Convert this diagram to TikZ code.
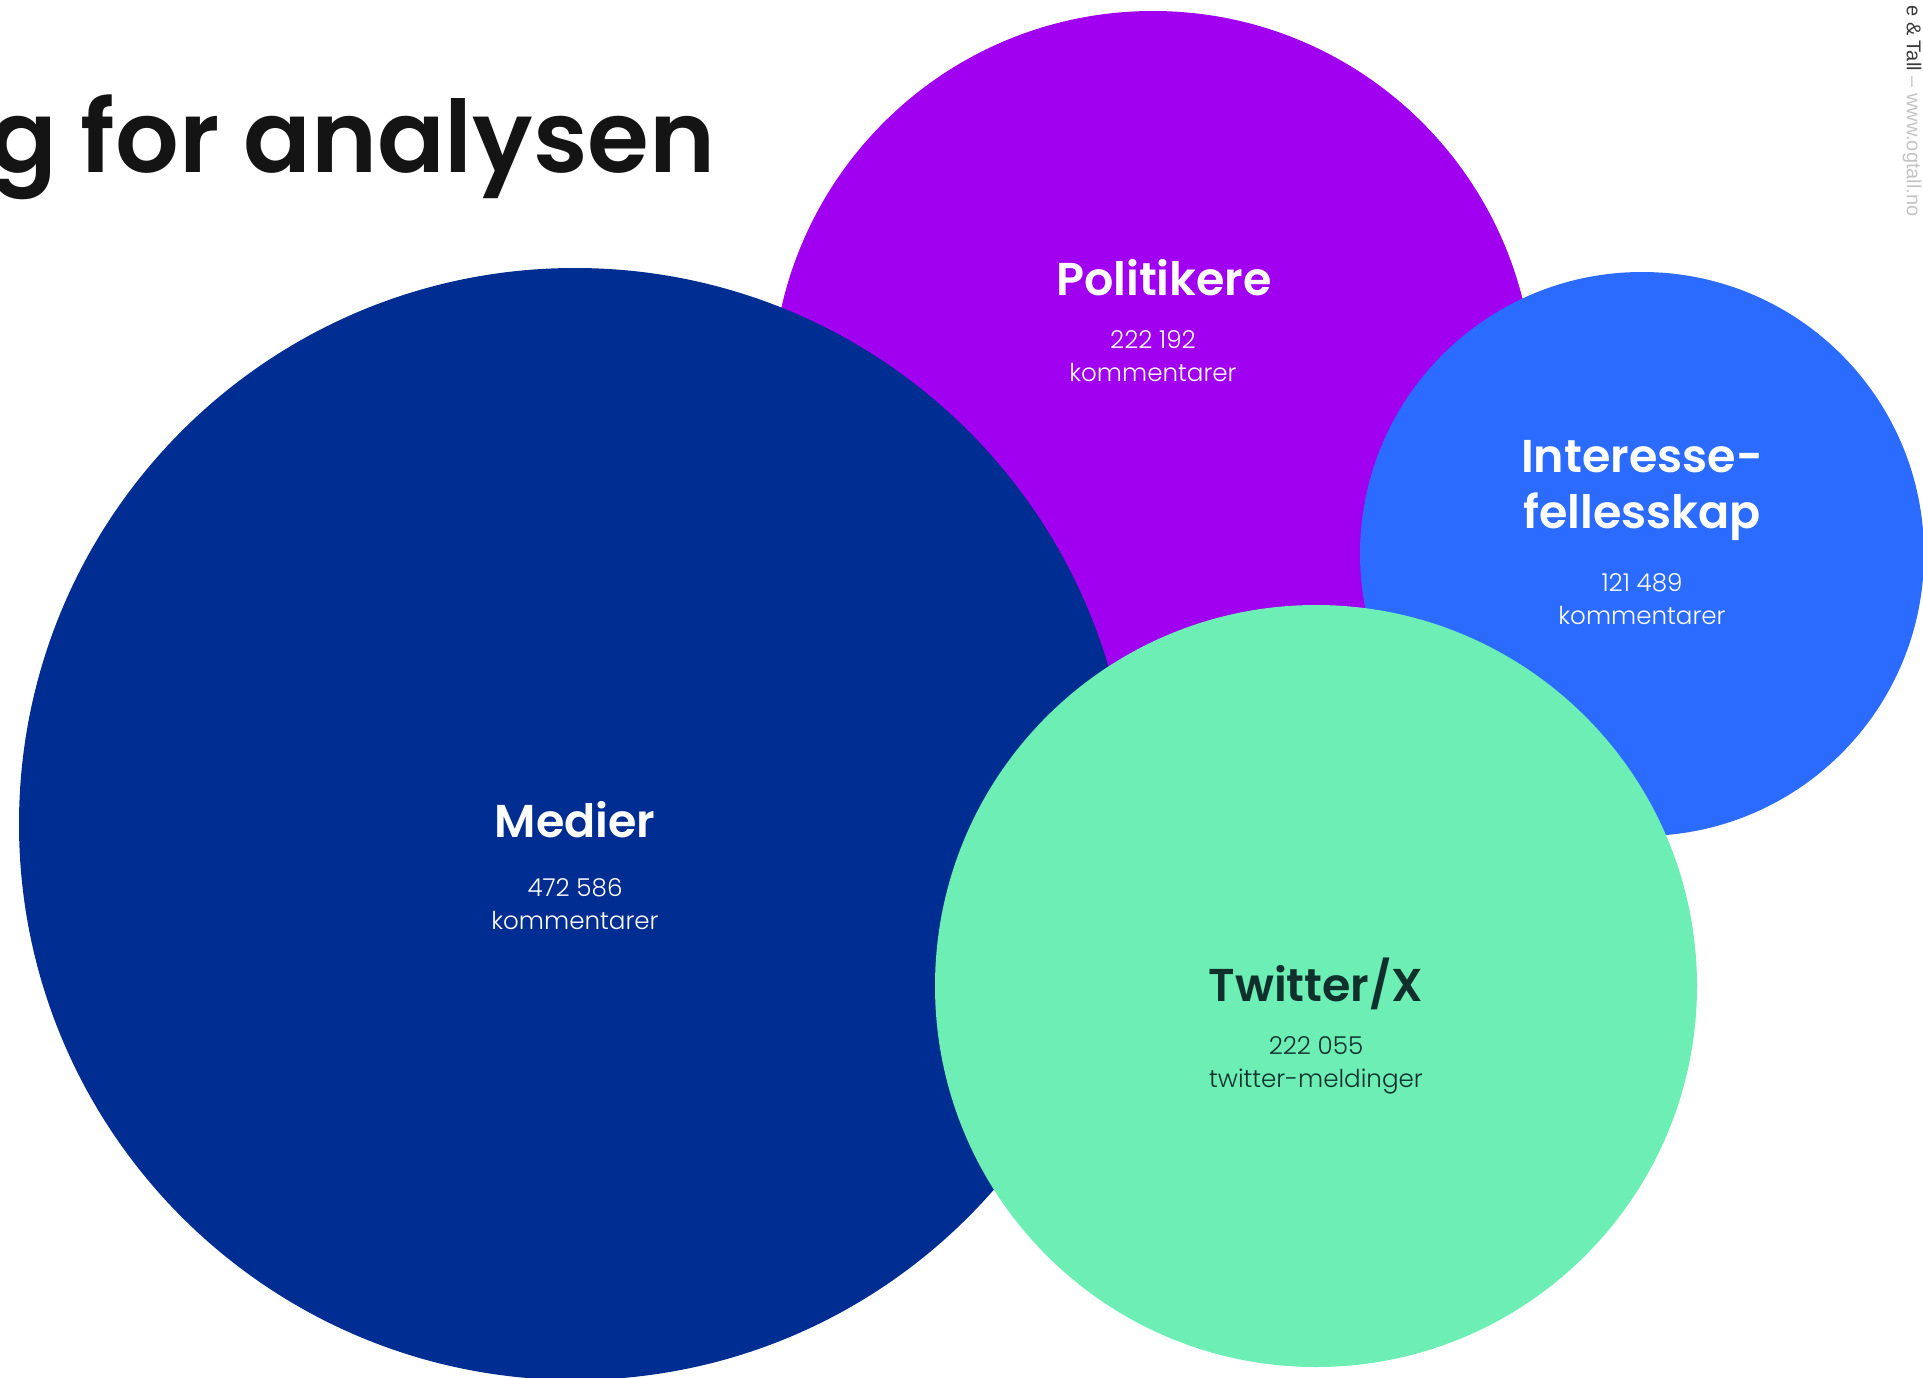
\documentclass[tikz,border=0pt]{standalone}
\usepackage{fontspec}
\setmainfont{Poppins}
\newfontfamily\semifont{Poppins SemiBold}
\newfontfamily\lightfont{Poppins Light}
\newfontfamily\markfont{Liberation Sans}
\usepackage{tikz}
\definecolor{MedNavy}{HTML}{002D91}
\definecolor{PolPurple}{HTML}{A000EF}
\definecolor{IntBlue}{HTML}{2B6BFF}
\definecolor{TwMint}{HTML}{6CEEB4}
\definecolor{TwInk}{HTML}{10302C}
\definecolor{TitleInk}{HTML}{141414}
\definecolor{MarkGrey}{HTML}{3A3A3A}
\definecolor{UrlGrey}{HTML}{C4C4C4}

\begin{document}
\begin{tikzpicture}[
        x=0.5pt, y=-0.5pt,
        bubble/.style={circle, inner sep=0pt, outer sep=0pt},
        lbl/.style={font=\semifont\fontsize{23}{28}\selectfont, text=white, align=center, inner sep=0pt},
        cnt/.style={font=\lightfont\fontsize{12.3}{16.5}\selectfont, text=white, align=center, inner sep=0pt},
      ]
        \useasboundingbox (0,0) rectangle (1923,1377);
        \clip (0,0) rectangle (1923,1377);
        \foreach \nm/\cx/\cy/\dia/\col in {%
           politikere/1153/392/381/PolPurple,
           medier/575/824/556/MedNavy,
           interesse/1642/554/282/IntBlue,
           twitter/1316/986/381/TwMint%
        }{
          \node[bubble, minimum size=\dia pt, fill=\col] (\nm) at (\cx,\cy) {};
        }
        \node[lbl] (medier-t) at (575,820) {Medier};
        \node[cnt] (medier-n) at (575,904) {472 586\\kommentarer};
        \node[lbl] (politikere-t) at (1164,278) {Politikere};
        \node[cnt] (politikere-n) at (1153,356) {222 192\\kommentarer};
        \node[lbl] (interesse-t) at (1642,491) {Interesse-\\fellesskap};
        \node[cnt] (interesse-n) at (1642,599) {121 489\\kommentarer};
        \node[lbl, text=TwInk] (twitter-t) at (1316,984) {Twitter/X};
        \node[cnt, text=TwInk] (twitter-n) at (1316,1065) {222 055\\twitter-meldinger};
        \node[font=\semifont\fontsize{50}{56}\selectfont, text=TitleInk, anchor=base east, inner sep=0pt]
              (tittel) at (716,172) {g for analysen};
        \node[font=\markfont\fontsize{10}{12}\selectfont, rotate=-90, anchor=east, inner sep=0pt]
              (merke) at (1912,217) {\textcolor{MarkGrey}{e \& Tall} \textcolor{UrlGrey}{– www.ogtall.no}};
      \end{tikzpicture}
\end{document}
